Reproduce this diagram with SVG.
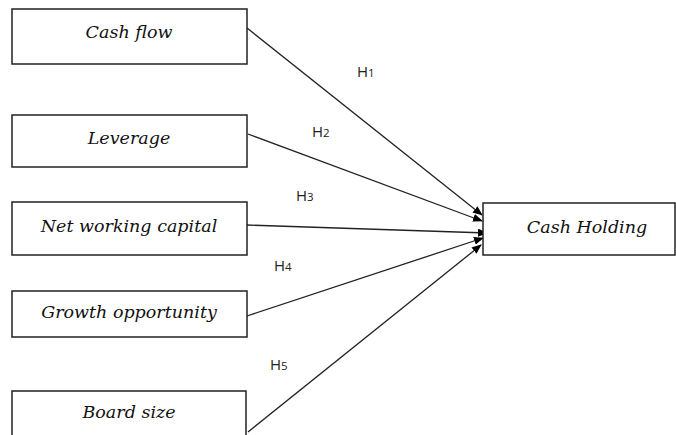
<svg xmlns="http://www.w3.org/2000/svg" width="676" height="435" viewBox="0 0 676 435">
<defs>
<marker id="ah" markerWidth="10" markerHeight="8" refX="9" refY="4" orient="auto" markerUnits="userSpaceOnUse">
<path d="M0,0 L10,4 L0,8 Z" fill="#000"/>
</marker>
<style>
.box{fill:#fff;stroke:#222;stroke-width:1.5}
.lbl{font-family:'DejaVu Serif','Liberation Serif',serif;font-style:italic;font-size:17.5px;fill:#111;text-anchor:middle}
.h{font-family:'Open Sans','Liberation Sans',sans-serif;font-size:15px;fill:#222}
.h tspan{font-size:11.5px}
.c{stroke:#222;stroke-width:1.3;fill:none;marker-end:url(#ah)}
</style>
</defs>
<rect width="676" height="435" fill="#fff"/>
<g id="connectors">
<line class="c" x1="247" y1="28" x2="482" y2="215"/>
<line class="c" x1="248" y1="134" x2="482" y2="221"/>
<line class="c" x1="247" y1="225" x2="487" y2="233"/>
<line class="c" x1="247" y1="316" x2="483" y2="238"/>
<line class="c" x1="248" y1="432" x2="481" y2="245"/>
</g>
<g id="labels">
<text class="h" x="357" y="77">H<tspan>1</tspan></text>
<text class="h" x="312" y="137">H<tspan>2</tspan></text>
<text class="h" x="296" y="201">H<tspan>3</tspan></text>
<text class="h" x="274" y="271">H<tspan>4</tspan></text>
<text class="h" x="270" y="370">H<tspan>5</tspan></text>
</g>
<g id="cash-flow"><rect class="box" x="12" y="9" width="235" height="55"/><text class="lbl" x="129" y="38">Cash flow</text></g>
<g id="leverage"><rect class="box" x="12" y="115" width="235" height="52"/><text class="lbl" x="129" y="144">Leverage</text></g>
<g id="net-working-capital"><rect class="box" x="12" y="202" width="235" height="53"/><text class="lbl" x="129" y="232">Net working capital</text></g>
<g id="growth-opportunity"><rect class="box" x="12" y="291" width="235" height="46"/><text class="lbl" x="129" y="318">Growth opportunity</text></g>
<g id="board-size"><rect class="box" x="12" y="391" width="234" height="60"/><text class="lbl" x="129" y="418">Board size</text></g>
<g id="cash-holding"><rect class="box" x="483" y="203" width="192" height="52"/><text class="lbl" x="587" y="233">Cash Holding</text></g>
</svg>
